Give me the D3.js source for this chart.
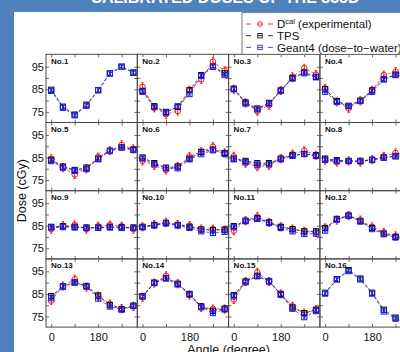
<!DOCTYPE html>
<html>
<head>
<meta charset="utf-8">
<script src="https://cdn.jsdelivr.net/npm/d3@7"></script>
<style>
  body { margin: 0; background: #4f81bd; }
  svg { display: block; }
</style>
</head>
<body>
<svg id="chart" width="400" height="352"></svg>
<script>
// gantry angles (degree)
const angles = [0, 45, 90, 135, 180, 225, 270, 315];

// panel names
const panelNames = ["No.1", "No.2", "No.3", "No.4", "No.5", "No.6", "No.7", "No.8",
  "No.9", "No.10", "No.11", "No.12", "No.13", "No.14", "No.15", "No.16"];

// D^cal (experimental), cGy
const experimental = [
  null,
  [86.1, 76.8, 74.0, 75.4, 84.6, 89.4, 97.2, 93.2],
  [85.0, 79.0, 75.3, 78.0, 84.5, 90.5, 94.3, 91.5],
  [85.4, 79.4, 76.5, 79.9, 84.6, 91.3, 92.8, 91.0],
  [84.4, 80.5, 77.5, 80.0, 85.2, 88.0, 90.6, 88.8],
  [83.5, 81.5, 79.5, 81.0, 85.5, 87.5, 89.8, 87.0],
  [85.5, 82.5, 81.0, 81.5, 84.5, 86.5, 88.0, 86.0],
  [83.8, 83.0, 83.5, 83.0, 84.0, 85.5, 87.0, 85.5],
  [83.5, 85.0, 85.3, 83.5, 84.8, 85.3, 84.8, 83.5],
  [84.5, 85.5, 86.5, 85.5, 85.0, 83.5, 83.5, 83.0],
  [82.8, 87.2, 89.0, 86.5, 84.5, 83.5, 82.5, 82.0],
  [84.0, 87.5, 89.5, 87.5, 84.5, 82.0, 80.5, 79.0],
  [82.0, 88.5, 91.5, 88.0, 84.0, 80.5, 78.5, 79.5],
  [83.5, 89.8, 93.0, 89.5, 84.5, 79.0, 78.3, 78.3],
  [82.5, 90.5, 94.5, 90.5, 85.0, 79.5, 76.5, 78.0],
  null
];

// TPS, cGy
const tps = [
  [84.8, 77.3, 73.8, 78.2, 84.6, 92.0, 95.0, 92.3],
  [84.3, 77.5, 75.0, 77.2, 84.6, 91.3, 95.0, 92.1],
  [85.3, 79.2, 76.5, 79.0, 84.5, 90.0, 92.5, 90.5],
  [85.0, 79.8, 77.7, 80.0, 84.5, 89.5, 91.5, 90.0],
  [84.0, 81.0, 79.5, 80.5, 84.5, 88.0, 89.5, 88.5],
  [85.0, 82.5, 80.5, 81.0, 84.5, 87.5, 88.5, 87.0],
  [84.5, 83.5, 82.5, 82.5, 84.5, 86.0, 86.5, 86.0],
  [84.5, 83.8, 83.5, 83.5, 84.0, 85.0, 85.5, 85.0],
  [84.5, 84.8, 84.5, 84.2, 84.2, 84.5, 84.3, 84.2],
  [84.5, 85.3, 86.2, 85.3, 84.5, 83.3, 83.0, 83.3],
  [84.8, 87.2, 88.3, 86.5, 84.5, 83.5, 82.5, 82.5],
  [84.0, 88.0, 89.5, 87.0, 84.0, 81.5, 80.0, 78.5],
  [84.0, 88.3, 90.0, 88.5, 84.3, 80.0, 78.3, 79.8],
  [84.0, 90.0, 92.0, 89.5, 85.0, 79.5, 77.5, 78.5],
  [84.5, 90.5, 93.0, 90.5, 85.0, 79.0, 76.5, 78.0],
  [85.5, 91.5, 95.5, 91.8, 85.5, 78.0, 74.5, 72.5]
];

// Geant4 (dose-to-water), cGy
const geant4 = [
  [84.3, 76.8, 73.5, 77.7, 84.6, 92.1, 95.0, 92.5],
  [83.9, 77.2, 74.6, 77.5, 82.9, 90.9, 95.0, 91.3],
  [85.0, 78.7, 76.1, 78.7, 84.3, 89.8, 92.1, 90.3],
  [83.9, 79.4, 77.5, 79.8, 83.9, 89.4, 91.3, 90.0],
  [83.4, 80.5, 79.1, 79.9, 84.2, 87.9, 89.4, 88.3],
  [84.6, 82.0, 80.2, 80.2, 84.2, 86.5, 88.2, 86.6],
  [84.2, 82.9, 81.8, 82.0, 84.2, 85.7, 86.6, 85.7],
  [83.9, 83.4, 83.4, 83.4, 83.9, 84.9, 85.7, 85.0],
  [84.2, 84.4, 84.2, 84.0, 84.0, 84.2, 84.0, 84.0],
  [84.3, 85.1, 86.0, 85.1, 84.0, 82.5, 81.8, 82.3],
  [84.3, 87.0, 88.0, 86.2, 84.0, 82.5, 81.3, 81.5],
  [82.8, 87.7, 89.4, 86.9, 83.5, 81.2, 79.8, 78.0],
  [83.1, 88.3, 90.2, 88.3, 82.9, 79.4, 78.0, 79.6],
  [83.9, 89.8, 91.8, 89.2, 84.8, 79.1, 76.5, 78.1],
  [83.9, 90.2, 92.8, 90.7, 84.6, 78.4, 74.7, 77.4],
  [85.1, 91.4, 95.1, 91.4, 85.1, 77.2, 74.0, 72.0]
];

// error bar half widths (cGy)
const expErr = 1.8;
const tpsErr = 0.6;
const g4Err = 0.6;

// ticks
const yTicks = [75, 80, 85, 90, 95];
const yLabels = [75, 85, 95];
const xTicks = [0, 90, 180, 270];
const xLabels = [0, 180];

const svg = d3.select("#chart");

// blue slide background and white area
svg.append("rect").attr("width", 400).attr("height", 352).attr("fill", "#4f81bd");
svg.append("rect").attr("x", 14).attr("y", 12).attr("width", 400).attr("height", 352).attr("fill", "#fff");

// title (clipped by the top of the window)
svg.append("text")
  .attr("x", 225).attr("y", 3)
  .attr("text-anchor", "middle")
  .attr("fill", "#fff")
  .style("font-family", "Liberation Sans, Arial, sans-serif")
  .style("font-weight", "bold")
  .style("font-size", "16px")
  .text("CALIBRATED DOSES OF THE 855D");

// grid layout
const gridLeft = 46, gridTop = 54.3;
const panelW = 91.3, panelH = 68.2;

const x = d3.scaleLinear().domain([-20, 330]).range([0, panelW]);
const y = d3.scaleLinear().domain([70.3, 100.5]).range([panelH, 0]);

const font = "Liberation Sans, Arial, sans-serif";

const series = [
  { data: experimental, err: expErr, color: "#ff0000", shape: "circle" },
  { data: tps, err: tpsErr, color: "#000000", shape: "square" },
  { data: geant4, err: g4Err, color: "#1a1aff", shape: "square" }
];

const line = d3.line()
  .defined(d => d != null)
  .x((d, i) => x(angles[i]))
  .y(d => y(d));

panelNames.forEach((name, p) => {
  const col = p % 4, row = Math.floor(p / 4);
  const g = svg.append("g")
    .attr("transform", "translate(" + (gridLeft + col * panelW) + "," + (gridTop + row * panelH) + ")");

  // axes with inward ticks
  g.append("g")
    .call(d3.axisLeft(y).tickValues(yTicks).tickSizeInner(-3).tickSizeOuter(0).tickPadding(2)
      .tickFormat(d => (col === 0 && yLabels.includes(d)) ? d : ""));
  g.append("g").attr("transform", "translate(" + panelW + ",0)")
    .call(d3.axisRight(y).tickValues(yTicks).tickSizeInner(-3).tickSizeOuter(0).tickFormat(""));
  g.append("g")
    .call(d3.axisTop(x).tickValues(xTicks).tickSizeInner(-3).tickSizeOuter(0).tickFormat(""));
  g.append("g").attr("transform", "translate(0," + panelH + ")")
    .call(d3.axisBottom(x).tickValues(xTicks).tickSizeInner(-3).tickSizeOuter(0).tickPadding(6)
      .tickFormat(d => (row === 3 && xLabels.includes(d)) ? d : ""));

  g.selectAll(".domain").remove();
  g.selectAll(".tick line").attr("stroke", "#444").attr("stroke-width", 0.8);
  g.selectAll(".tick text")
    .attr("fill", "#111")
    .style("font-family", font)
    .style("font-size", "11px");

  // frame
  g.append("rect")
    .attr("width", panelW).attr("height", panelH)
    .attr("fill", "none").attr("stroke", "#4a4a4a").attr("stroke-width", 1);

  // series
  series.forEach(s => {
    const vals = s.data[p];
    if (!vals) return;
    g.append("path")
      .datum(vals)
      .attr("d", line)
      .attr("fill", "none")
      .attr("stroke", s.color)
      .attr("stroke-width", 0.7)
      .attr("stroke-dasharray", "3,2");

    const pts = g.selectAll(null).data(vals).enter().append("g")
      .attr("transform", (d, i) => "translate(" + x(angles[i]) + "," + y(d) + ")");

    // error bars
    pts.append("line")
      .attr("x1", 0).attr("x2", 0)
      .attr("y1", d => y(d - s.err) - y(d))
      .attr("y2", d => y(d + s.err) - y(d))
      .attr("stroke", s.color).attr("stroke-width", 0.9);
    pts.append("line")
      .attr("x1", -1.2).attr("x2", 1.2)
      .attr("y1", d => y(d + s.err) - y(d)).attr("y2", d => y(d + s.err) - y(d))
      .attr("stroke", s.color).attr("stroke-width", 0.8);
    pts.append("line")
      .attr("x1", -1.2).attr("x2", 1.2)
      .attr("y1", d => y(d - s.err) - y(d)).attr("y2", d => y(d - s.err) - y(d))
      .attr("stroke", s.color).attr("stroke-width", 0.8);

    if (s.shape === "circle") {
      pts.append("circle").attr("r", 2.8)
        .attr("fill", "none").attr("stroke", s.color).attr("stroke-width", 0.9);
    } else {
      pts.append("rect").attr("x", -2.6).attr("y", -2.6).attr("width", 5.2).attr("height", 5.2)
        .attr("fill", "none").attr("stroke", s.color).attr("stroke-width", 1);
    }
  });

  // panel label
  g.append("text")
    .attr("x", 5).attr("y", 9.6)
    .style("font-family", font)
    .style("font-size", "8px")
    .style("font-weight", "bold")
    .attr("fill", "#111")
    .text(name);
});

// axis titles
svg.append("text")
  .attr("transform", "translate(26," + (gridTop + 2 * panelH) + ") rotate(-90)")
  .attr("text-anchor", "middle")
  .style("font-family", font)
  .style("font-size", "12.5px")
  .attr("fill", "#111")
  .text("Dose (cGy)");

svg.append("text")
  .attr("x", gridLeft + 2 * panelW).attr("y", 354)
  .attr("text-anchor", "middle")
  .style("font-family", font)
  .style("font-size", "12.5px")
  .attr("fill", "#111")
  .text("Angle (degree)");

// legend
const legend = svg.append("g");
legend.append("rect")
  .attr("x", 242).attr("y", 12.7).attr("width", 200).attr("height", 41.6)
  .attr("fill", "#fff").attr("stroke", "#555").attr("stroke-width", 0.8);

const legendItems = [
  { color: "#ff0000", shape: "circle" },
  { color: "#000000", shape: "square" },
  { color: "#1a1aff", shape: "square" }
];
legendItems.forEach((it, i) => {
  const cy = 24 + i * 11.7;
  const lg = legend.append("g").attr("transform", "translate(0," + cy + ")");
  lg.append("line").attr("x1", 246).attr("x2", 251).attr("y1", 0).attr("y2", 0)
    .attr("stroke", it.color).attr("stroke-width", 0.8);
  lg.append("line").attr("x1", 268).attr("x2", 273).attr("y1", 0).attr("y2", 0)
    .attr("stroke", it.color).attr("stroke-width", 0.8);
  lg.append("line").attr("x1", 257.6).attr("x2", 262.4).attr("y1", 0).attr("y2", 0)
    .attr("stroke", it.color).attr("stroke-width", 0.8);
  if (it.shape === "circle") {
    lg.append("circle").attr("cx", 260).attr("cy", 0).attr("r", 2.4)
      .attr("fill", "none").attr("stroke", it.color).attr("stroke-width", 0.8);
  } else {
    lg.append("rect").attr("x", 257.8).attr("y", -2.2).attr("width", 4.4).attr("height", 4.4)
      .attr("fill", "none").attr("stroke", it.color).attr("stroke-width", 0.8);
  }
});

const legText = legend.append("g")
  .style("font-family", font)
  .style("font-size", "11.5px")
  .attr("fill", "#111");
const t0 = legText.append("text").attr("x", 277).attr("y", 28.3);
t0.append("tspan").text("D");
t0.append("tspan").attr("dy", -4.5).style("font-size", "7.5px").text("cal");
t0.append("tspan").attr("dy", 4.5).text(" (experimental)");
legText.append("text").attr("x", 277).attr("y", 40).text("TPS");
legText.append("text").attr("x", 277).attr("y", 51.7).text("Geant4 (dose\u2212to\u2212water)");
</script>
</body>
</html>
